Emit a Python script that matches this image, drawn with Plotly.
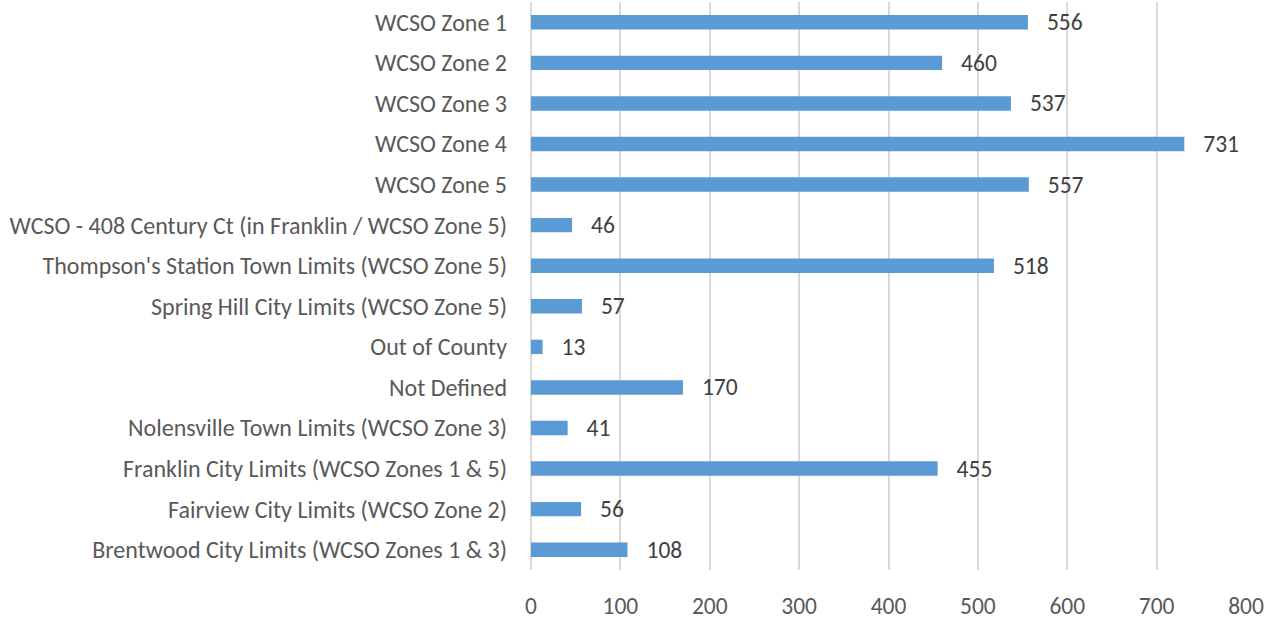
import plotly.graph_objects as go

categories = [
    "WCSO Zone 1",
    "WCSO Zone 2",
    "WCSO Zone 3",
    "WCSO Zone 4",
    "WCSO Zone 5",
    "WCSO - 408 Century Ct (in Franklin / WCSO Zone 5)",
    "Thompson's Station Town Limits (WCSO Zone 5)",
    "Spring Hill City Limits (WCSO Zone 5)",
    "Out of County",
    "Not Defined",
    "Nolensville Town Limits (WCSO Zone 3)",
    "Franklin City Limits (WCSO Zones 1 & 5)",
    "Fairview City Limits (WCSO Zone 2)",
    "Brentwood City Limits (WCSO Zones 1 & 3)",
]
values = [556, 460, 537, 731, 557, 46, 518, 57, 13, 170, 41, 455, 56, 108]
x_ticks = [0, 100, 200, 300, 400, 500, 600, 700, 800]

font_family = "Carlito, Calibri, Lato, sans-serif"
FS = 23.5
FS_Y = 24

fig = go.Figure(
    go.Bar(
        y=categories,
        x=values,
        orientation="h",
        marker=dict(color="#5B9BD5", line=dict(width=0)),
        text=["\u00a0\u00a0\u00a0" + str(v) for v in values],
        textposition="outside",
        constraintext="none",
        textfont=dict(size=FS, color="#404040", family=font_family),
        cliponaxis=False,
        hoverinfo="x+y",
    )
)

fig.update_layout(
    width=1276,
    height=622,
    margin=dict(l=531, r=30, t=2, b=47, pad=0),
    paper_bgcolor="white",
    plot_bgcolor="white",
    bargap=0.645,
    showlegend=False,
    font=dict(family=font_family, size=FS, color="#595959"),
)
fig.update_xaxes(
    range=[0, 800],
    tickvals=x_ticks,
    showgrid=True,
    gridcolor="#D9D9D9",
    gridwidth=1.5,
    zeroline=True,
    zerolinecolor="#D9D9D9",
    zerolinewidth=1.5,
    showline=False,
    ticks="",
    ticklabelstandoff=19,
    tickfont=dict(size=FS, color="#595959", family=font_family),
)
fig.update_yaxes(
    categoryorder="array",
    categoryarray=categories[::-1],
    showgrid=False,
    showline=False,
    ticks="",
    ticklabelstandoff=23,
    tickfont=dict(size=FS_Y, color="#595959", family=font_family),
)

fig.write_html(
    "out.html",
    config={"displayModeBar": False},
    post_script="document.body.style.margin='0';document.body.style.padding='0';",
)
